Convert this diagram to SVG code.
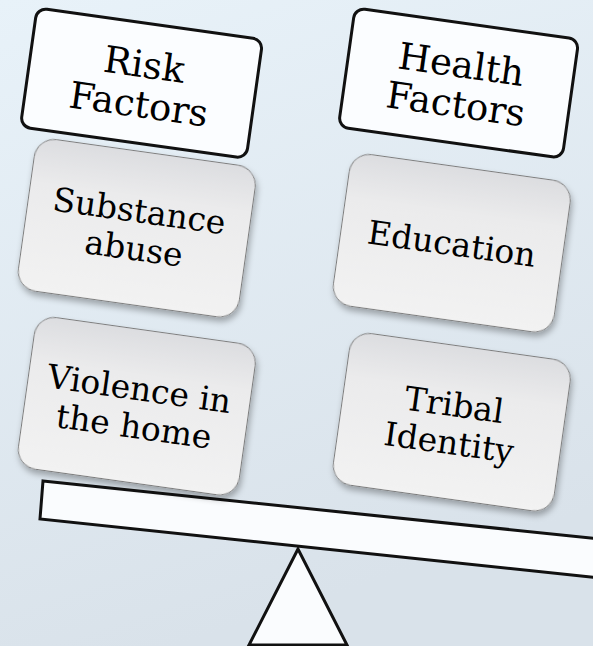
<svg xmlns="http://www.w3.org/2000/svg" width="593" height="646" viewBox="0 0 593 646">
<defs>
<linearGradient id="bg" x1="0" y1="0" x2="0.3" y2="1">
<stop offset="0" stop-color="#e8f2f9"/>
<stop offset="1" stop-color="#d9e2ea"/>
</linearGradient>
<linearGradient id="card" x1="0" y1="0" x2="0" y2="1">
<stop offset="0" stop-color="#dcdde0"/>
<stop offset="0.3" stop-color="#ebebec"/>
<stop offset="1" stop-color="#f2f2f2"/>
</linearGradient>
<filter id="sh" x="-20%" y="-20%" width="140%" height="140%">
<feDropShadow dx="2" dy="4" stdDeviation="3" flood-color="#000" flood-opacity="0.3"/>
</filter>
<style>
.hdr{fill:#fbfdff;stroke:#111;stroke-width:3}
.card{fill:url(#card);stroke:#7d7d7d;stroke-width:1;filter:url(#sh)}
.t1{font-family:"DejaVu Serif","Liberation Serif",serif;font-size:37px;fill:#000;text-anchor:middle}
.t2{font-family:"DejaVu Serif","Liberation Serif",serif;font-size:33px;fill:#000;text-anchor:middle}
.bar{fill:#fafcfe;stroke:#111;stroke-width:3;stroke-linejoin:miter}
</style>
</defs>
<rect x="0" y="0" width="593" height="646" fill="url(#bg)"/>
<g id="fulcrum"><polygon class="bar" points="298,549 249,645 347,645"/></g>
<g id="beam"><polygon class="bar" points="43,481 600,539 600,578 40,519"/></g>
<g id="connectors"/>
<g id="substance" transform="translate(136.8,228.2) rotate(8)">
<rect class="card" x="-111.5" y="-76.5" width="223" height="153" rx="20"/>
<text class="t2" x="0" y="-6">Substance</text>
<text class="t2" x="0" y="32">abuse</text>
</g>
<g id="violence" transform="translate(136.8,406.2) rotate(8)">
<rect class="card" x="-111.5" y="-76.5" width="223" height="153" rx="20"/>
<text class="t2" x="0" y="-6">Violence in</text>
<text class="t2" x="0" y="32">the home</text>
</g>
<g id="education" transform="translate(451.8,243.2) rotate(8)">
<rect class="card" x="-111.5" y="-76.5" width="223" height="153" rx="20"/>
<text class="t2" x="0" y="12">Education</text>
</g>
<g id="tribal" transform="translate(451.8,422.2) rotate(8)">
<rect class="card" x="-111.5" y="-76.5" width="223" height="153" rx="20"/>
<text class="t2" x="0" y="-6">Tribal</text>
<text class="t2" x="0" y="32">Identity</text>
</g>
<g id="risk" transform="translate(141.6,83.2) rotate(8)">
<rect class="hdr" x="-114" y="-60" width="228" height="120" rx="10"/>
<text class="t1" x="0" y="-6">Risk</text>
<text class="t1" x="0" y="34">Factors</text>
</g>
<g id="health" transform="translate(458.6,83.1) rotate(8)">
<rect class="hdr" x="-113" y="-60" width="226" height="120" rx="10"/>
<text class="t1" x="0" y="-6">Health</text>
<text class="t1" x="0" y="34">Factors</text>
</g>
</svg>
